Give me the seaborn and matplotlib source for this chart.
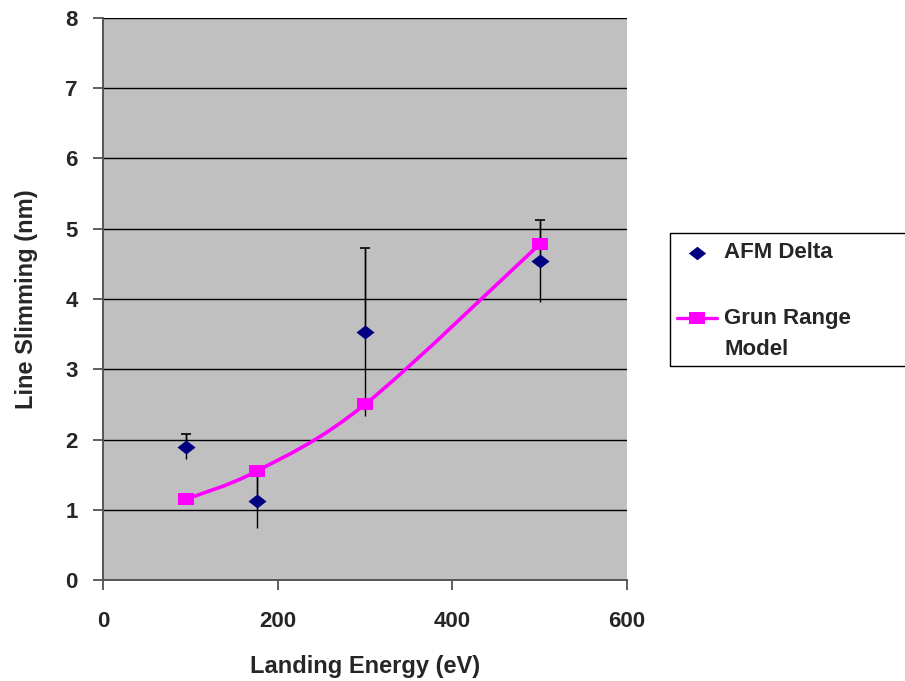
import matplotlib
matplotlib.use("Agg")
import matplotlib.pyplot as plt
import seaborn as sns
import pandas as pd
import numpy as np
from matplotlib.lines import Line2D
from matplotlib.markers import MarkerStyle
from matplotlib.path import Path
from matplotlib.patches import PathPatch

energy = [95, 176, 300, 500]
afm_delta = [1.90, 1.13, 3.53, 4.54]
afm_err = [0.18, 0.39, 1.20, 0.58]
grun_model = [1.15, 1.55, 2.50, 4.78]

x_ticks = [0, 200, 400, 600]
y_ticks = [0, 1, 2, 3, 4, 5, 6, 7, 8]

NAVY = '#000080'
MAGENTA = '#FF00FF'

sns.set_style("white")
plt.rcParams['font.family'] = ['Liberation Sans', 'DejaVu Sans']

diamond = MarkerStyle([(-1, 0), (0, 0.78), (1, 0), (0, -0.78), (-1, 0)])
rect_sq = MarkerStyle([(-1, -0.8), (1, -0.8), (1, 0.8), (-1, 0.8), (-1, -0.8)])

fig = plt.figure(figsize=(9.05, 6.81), dpi=100)
ax = fig.add_axes([0.1138, 0.1483, 0.5790, 0.8253])
ax.set_facecolor('#C0C0C0')

df_afm = pd.DataFrame({'energy': energy, 'delta': afm_delta, 'err': afm_err})
df_model = pd.DataFrame({'energy': energy, 'model': grun_model})

# error bars (caps only on the top end)
ax.errorbar(df_afm['energy'], df_afm['delta'], yerr=df_afm['err'], fmt='none',
            ecolor='black', elinewidth=1.0, capsize=0, zorder=2)
ax.errorbar(df_afm['energy'], df_afm['delta'], yerr=[np.zeros(len(afm_err)), df_afm['err']],
            fmt='none', ecolor='black', elinewidth=1.0, capsize=3.4, capthick=1.2, zorder=2)

# smoothed model line (Excel-style smoothing: Bezier through the data points)
px = np.array(energy, dtype=float)
py = np.array(grun_model, dtype=float)
P = np.column_stack([px, py])
Pext = np.vstack([P[0], P, P[-1]])
verts = [tuple(P[0])]
codes = [Path.MOVETO]
for i in range(len(P) - 1):
    p_prev, p0, p1, p_next = Pext[i], Pext[i + 1], Pext[i + 2], Pext[i + 3]
    c1 = p0 + (p1 - p_prev) / 6.0
    c2 = p1 - (p_next - p0) / 6.0
    verts += [tuple(c1), tuple(c2), tuple(p1)]
    codes += [Path.CURVE4] * 3
ax.add_patch(PathPatch(Path(verts, codes), facecolor='none', edgecolor=MAGENTA,
                       linewidth=2.6, transform=ax.transData, zorder=3))

sns.scatterplot(data=df_model, x='energy', y='model', ax=ax, marker=rect_sq, s=117,
                color=MAGENTA, edgecolor=MAGENTA, linewidth=0, zorder=4, legend=False)
sns.scatterplot(data=df_afm, x='energy', y='delta', ax=ax, marker=diamond, s=169,
                color=NAVY, edgecolor=NAVY, linewidth=0, zorder=5, legend=False)

ax.set_xlim(0, 600)
ax.set_ylim(0, 8)
ax.set_xticks(x_ticks)
ax.set_yticks(y_ticks)
ax.set_xticklabels([str(v) for v in x_ticks], fontsize=16, fontweight='bold')
ax.set_yticklabels([str(v) for v in y_ticks], fontsize=16, fontweight='bold')
ax.yaxis.grid(True, color='black', linewidth=1.0)
ax.xaxis.grid(False)
ax.set_axisbelow(True)
for s in ['top', 'right']:
    ax.spines[s].set_visible(False)
for s in ['left', 'bottom']:
    ax.spines[s].set_color('#555555')
    ax.spines[s].set_linewidth(1.4)
ax.tick_params(axis='both', direction='out', length=7, width=1.1, color='#333333',
               bottom=True, left=True)
ax.tick_params(axis='x', pad=15)
ax.tick_params(axis='y', pad=11)

ax.set_xlabel('Landing Energy (eV)', fontsize=17, fontweight='bold', labelpad=17)
ax.set_ylabel('Line Slimming (nm)', fontsize=17, fontweight='bold')
ax.yaxis.set_label_coords(-0.124, 0.5)

# legend (box runs past the right edge of the figure, as in the reference)
W, H = 905.0, 681.0
x0, x1 = 670 / W, 1.2
yt, yb = 1 - 233 / H, 1 - 366 / H
frame_kw = dict(transform=fig.transFigure, color='black', linewidth=1.0)
fig.add_artist(Line2D([x1, x0, x0, x1], [yt, yt, yb, yb], **frame_kw))
fig.add_artist(Line2D([697 / W], [1 - 253 / H], transform=fig.transFigure, linestyle='none',
                      marker=diamond, markersize=12.5, color=NAVY, markeredgewidth=0))
fig.add_artist(Line2D([677 / W, 717 / W], [1 - 318 / H, 1 - 318 / H], transform=fig.transFigure,
                      color=MAGENTA, linewidth=2.4))
fig.add_artist(Line2D([697 / W], [1 - 318 / H], transform=fig.transFigure, linestyle='none',
                      marker=rect_sq, markersize=11.5, color=MAGENTA, markeredgewidth=0))
fig.text(724 / W, 1 - 253 / H, 'AFM Delta', fontsize=16, fontweight='bold',
         ha='left', va='center')
fig.text(724 / W, 1 - 334 / H, 'Grun Range\nModel', fontsize=16, fontweight='bold',
         ha='left', va='center', linespacing=1.65)

fig.savefig('out.png', dpi=100)
